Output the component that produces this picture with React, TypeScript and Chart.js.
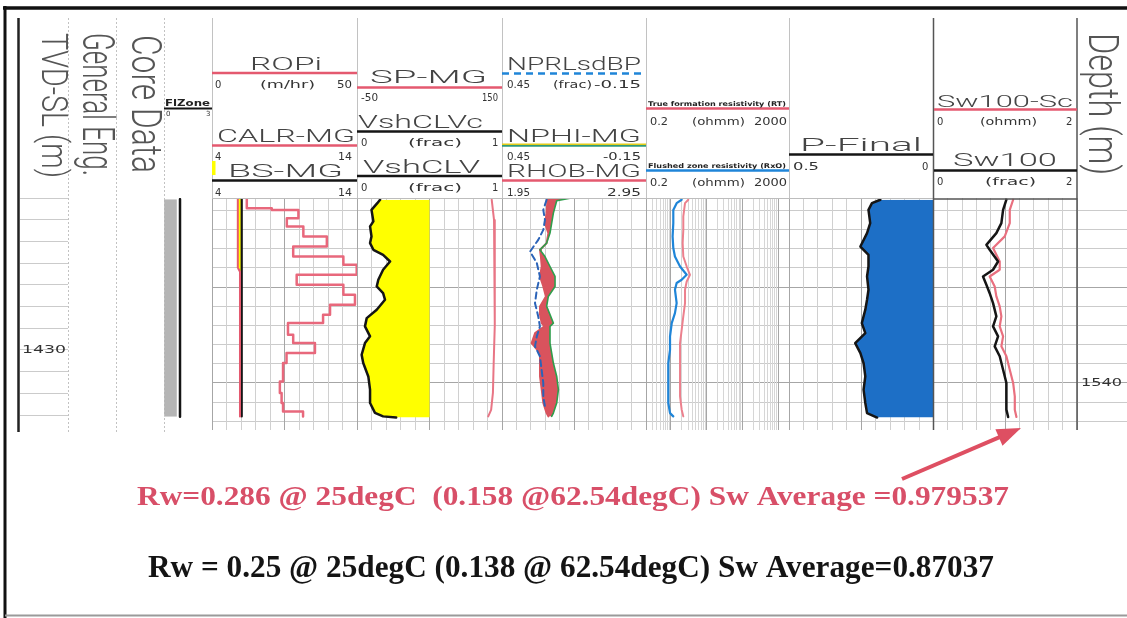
import React, { useEffect, useRef } from "react";
import { Chart, registerables } from "chart.js";

Chart.register(...registerables);

const W = 1127;
const H = 618;
const TOP = 198;
const BOTTOM = 430;

// ---------------- depth axes ----------------
const mdRange = [1530.36, 1542.45];
const tvdRange = [1423.0, 1433.69];
const mdTickLabels = [1540];
const tvdTickLabels = [1430];

// ---------------- FlZone ----------------
const flzDepth = [1530.42, 1541.76];
const flzValue = [1.0, 1.0];
const flzShade = [0.8, 0.8];

// ---------------- Track 1: ROPi / CALR-MG / BS-MG ----------------
const ropDepth = [1530.37, 1530.89, 1530.98, 1531.41, 1531.84, 1532.37, 1532.89, 1533.41, 1533.84, 1534.36, 1534.88, 1535.4, 1535.92, 1536.44, 1536.88, 1537.49, 1537.92, 1538.44, 1538.96, 1539.92, 1540.52, 1541.04, 1541.48, 1541.74];
const ropValue = [12.0, 20.6, 29.8, 25.8, 31.5, 39.6, 28.0, 45.3, 49.9, 29.2, 45.3, 49.3, 40.7, 38.3, 26.2, 28.0, 35.5, 25.7, 24.5, 23.4, 24.0, 24.5, 31.4, 31.4];
const calrDepth = [1530.4, 1534.0, 1534.2, 1541.74];
const calrValue = [5.78, 5.78, 5.93, 5.93];
const bsDepth = [1530.4, 1541.74];
const bsValue = [6.05, 6.05];

// ---------------- Track 2: SP-MG / VshCLVc / VshCLV ----------------
const spDepth = [1530.45, 1531.5, 1533.0, 1535.0, 1537.0, 1539.0, 1540.5, 1541.4, 1541.74];
const spValue = [135.8, 139.0, 140.3, 140.3, 139.5, 138.5, 137.5, 135.0, 131.0];
const vshDepth = [1530.45, 1530.63, 1530.98, 1531.58, 1531.84, 1532.36, 1532.71, 1533.06, 1533.32, 1533.67, 1534.1, 1534.62, 1534.97, 1535.32, 1535.66, 1536.18, 1536.62, 1537.05, 1537.57, 1537.92, 1538.53, 1538.96, 1539.66, 1540.35, 1541.04, 1541.56, 1541.74, 1541.8];
const vshValue = [0.159, 0.14, 0.1, 0.113, 0.09, 0.1, 0.09, 0.113, 0.18, 0.228, 0.18, 0.147, 0.136, 0.18, 0.193, 0.136, 0.067, 0.055, 0.09, 0.055, 0.032, 0.043, 0.078, 0.09, 0.09, 0.124, 0.18, 0.27];
const vshcDepth = [1530.45, 1541.8];
const vshcValue = [0.5, 0.5];

// ---------------- Track 3: NPRLsdBP / NPHI-MG / RHOB-MG ----------------
const nDepth = [1530.37, 1530.5, 1531.15, 1531.67, 1532.19, 1532.71, 1533.06, 1533.41, 1533.93, 1534.45, 1534.97, 1535.49, 1536.01, 1536.44, 1536.88, 1537.05, 1537.4, 1537.92, 1538.44, 1538.96, 1539.66, 1540.35, 1541.04, 1541.57, 1541.74];
const nphiValue = [0.167, 0.222, 0.236, 0.243, 0.25, 0.264, 0.292, 0.271, 0.25, 0.229, 0.229, 0.257, 0.264, 0.25, 0.236, 0.25, 0.25, 0.25, 0.243, 0.236, 0.222, 0.215, 0.222, 0.236, 0.243];
const rhobValue = [2.272, 2.265, 2.26, 2.249, 2.272, 2.26, 2.214, 2.22, 2.226, 2.214, 2.237, 2.255, 2.214, 2.214, 2.226, 2.245, 2.18, 2.156, 2.214, 2.214, 2.214, 2.226, 2.237, 2.26, 2.272];
const nprlDepth = [1530.45, 1530.98, 1531.5, 1532.02, 1532.54, 1533.15, 1533.75, 1534.45, 1535.14, 1535.84, 1536.53, 1537.05, 1537.57, 1538.09, 1538.61, 1539.31, 1540.0, 1540.7, 1541.22];
const nprlValue = [0.264, 0.278, 0.271, 0.278, 0.299, 0.333, 0.305, 0.292, 0.305, 0.3125, 0.299, 0.292, 0.305, 0.3125, 0.292, 0.285, 0.278, 0.278, 0.271];

// ---------------- Track 4: RT / RxO (log) ----------------
const rtDepth = [1530.45, 1530.63, 1531.32, 1532.02, 1532.71, 1533.41, 1533.93, 1534.36, 1534.71, 1535.14, 1535.84, 1536.53, 1537.23, 1537.92, 1538.61, 1539.31, 1540.0, 1540.7, 1541.39, 1541.74];
const rtValue = [3.05, 2.47, 2.21, 2.21, 2.12, 2.21, 2.75, 3.4, 2.75, 2.47, 2.47, 2.21, 1.99, 1.79, 1.79, 1.79, 1.79, 1.79, 1.99, 2.21];
const rxoDepth = [1530.45, 1530.63, 1530.98, 1531.67, 1532.36, 1532.97, 1533.41, 1533.93, 1534.36, 1534.62, 1534.79, 1535.14, 1535.84, 1536.36, 1536.88, 1537.57, 1538.27, 1538.96, 1539.66, 1540.35, 1541.04, 1541.57, 1541.74];
const rxoValue = [1.99, 1.44, 1.16, 1.16, 1.11, 1.16, 1.29, 1.79, 2.75, 1.99, 1.44, 1.29, 1.44, 1.29, 1.05, 0.94, 0.94, 0.84, 0.84, 0.84, 0.84, 0.94, 1.16];

// ---------------- Track 5: P-Final ----------------
const pfDepth = [1530.45, 1530.63, 1530.98, 1531.67, 1532.19, 1532.89, 1533.32, 1533.93, 1534.45, 1535.14, 1535.66, 1536.18, 1536.88, 1537.4, 1537.92, 1538.44, 1538.96, 1539.66, 1540.35, 1541.04, 1541.57, 1541.8];
const pfValue = [0.184, 0.213, 0.225, 0.219, 0.23, 0.253, 0.225, 0.225, 0.23, 0.225, 0.23, 0.236, 0.248, 0.236, 0.271, 0.253, 0.242, 0.236, 0.242, 0.236, 0.23, 0.195];

// ---------------- Track 6: Sw100-Sc / Sw100 ----------------
const swDepth = [1530.45, 1530.98, 1531.67, 1532.19, 1532.8, 1533.06, 1533.67, 1534.1, 1534.45, 1534.88, 1535.32, 1535.84, 1536.53, 1537.05, 1537.57, 1538.09, 1538.61, 1539.31, 1540.0, 1540.7, 1541.39, 1541.77];
const swValue = [1.016, 0.97, 0.946, 0.876, 0.737, 0.783, 0.9, 0.83, 0.69, 0.737, 0.783, 0.83, 0.876, 0.83, 0.9, 0.853, 0.923, 0.97, 1.016, 1.016, 1.016, 1.04];
const swScDepth = [1530.45, 1530.98, 1531.67, 1532.36, 1532.97, 1533.67, 1534.1, 1534.45, 1534.97, 1535.49, 1536.01, 1536.53, 1537.05, 1537.57, 1538.09, 1538.61, 1539.31, 1540.0, 1540.7, 1541.39, 1541.77];
const swScValue = [1.11, 1.063, 1.063, 0.993, 0.83, 0.923, 0.923, 0.783, 0.853, 0.876, 0.923, 0.946, 0.923, 0.97, 0.946, 1.016, 1.063, 1.11, 1.133, 1.133, 1.156];

// ---------------- annotation text ----------------
const noteRed = "Rw=0.286 @ 25degC  (0.158 @62.54degC) Sw Average =0.979537";
const noteBlack = "Rw = 0.25 @ 25degC (0.138 @ 62.54degC) Sw Average=0.87037";

// ---------------- colours ----------------
const RED = "#e4596f";
const PINK = "#e9707f";
const BLACK = "#151515";
const BLUE = "#1f85d8";
const GREEN = "#2f9e4c";
const YELLOW = "#ffff00";
const GRID = "#d0d0d0";
const GRID_MAJOR = "#a6a6a6";

// ---------------- helpers ----------------
const pts = (d: number[], v: number[]) => d.map((y, i) => ({ x: v[i], y }));
const curve = (axis: string, d: number[], v: number[], color: string, width: number, extra: any = {}) => ({
  data: pts(d, v),
  xAxisID: axis,
  yAxisID: "y",
  borderColor: color,
  backgroundColor: color,
  borderWidth: width,
  pointRadius: 0,
  fill: false,
  ...extra,
});

const hidden = (min: number, max: number, reverse = false, type = "linear") => ({
  type,
  axis: "x",
  position: "top",
  min,
  max,
  reverse,
  display: false,
});

const gridLinear = () => ({
  type: "linear",
  axis: "x",
  position: "bottom",
  min: 0,
  max: 10,
  display: true,
  grid: {
    display: true,
    drawTicks: false,
    lineWidth: 1,
    color: (c: any) => (c.tick && [0, 5, 10].includes(Math.round(c.tick.value)) ? GRID_MAJOR : GRID),
  },
  border: { display: false },
  ticks: { display: false, stepSize: 1 },
});

const gridLog = () => ({
  type: "logarithmic",
  axis: "x",
  position: "bottom",
  min: 0.2,
  max: 2000,
  display: true,
  grid: {
    display: true,
    drawTicks: false,
    lineWidth: 1,
    color: (c: any) => {
      const v = c.tick ? c.tick.value : 1.5;
      const e = Math.log10(v);
      return Math.abs(e - Math.round(e)) < 1e-6 || v === 0.2 || v === 2000 ? GRID_MAJOR : "#d6d6d6";
    },
  },
  border: { display: false },
  ticks: { display: false, autoSkip: false },
  afterBuildTicks: (s: any) => {
    s.ticks = s.ticks.filter((t: any) => {
      const m = t.value / Math.pow(10, Math.floor(Math.log10(t.value) + 1e-9));
      return Math.abs(m - 1.5) > 1e-6;
    });
  },
});

const depthAxis = (range: number[], show: boolean, major = true) => ({
  type: "linear",
  axis: "y",
  position: "left",
  min: range[0],
  max: range[1],
  reverse: true,
  display: show,
  grid: {
    display: show,
    drawTicks: false,
    lineWidth: 1,
    color: (c: any) => (major && c.tick && Math.round(c.tick.value) % 5 === 0 ? GRID_MAJOR : "#cbcbcb"),
  },
  border: { display: false },
  ticks: { display: false, stepSize: 1, includeBounds: false },
});

function trackConfig(x0: number, x1: number, scales: any, datasets: any[], plugins: any[] = []) {
  return {
    type: "line",
    data: { datasets },
    options: {
      indexAxis: "y",
      animation: false,
      responsive: false,
      events: [],
      layout: { padding: { left: x0, right: W - x1, top: TOP, bottom: H - BOTTOM } },
      plugins: {
        legend: { display: false },
        tooltip: { enabled: false },
        filler: { drawTime: "beforeDatasetsDraw", propagate: false },
      },
      elements: {
        point: { radius: 0 },
        line: { tension: 0, borderJoinStyle: "round", borderCapStyle: "round" },
      },
      scales,
    },
    plugins,
  };
}

// ---------------- text drawing ----------------
const titleFont = (s: number) => `300 ${s}px Roboto, "DejaVu Sans", sans-serif`;
const labelFont = (s: number) => `400 ${s}px "DejaVu Sans", sans-serif`;
const tinyFont = (s: number) => `700 ${s}px "DejaVu Sans", sans-serif`;

function txt(ctx: CanvasRenderingContext2D, s: string, x: number, y: number, w: number, font: string, color: string, baseline: CanvasTextBaseline = "alphabetic") {
  ctx.save();
  ctx.font = font;
  ctx.fillStyle = color;
  ctx.textBaseline = baseline;
  ctx.textAlign = "left";
  const m = ctx.measureText(s).width;
  ctx.translate(x, y);
  if (w && m > 0) ctx.scale(w / m, 1);
  ctx.fillText(s, 0, 0);
  ctx.restore();
}

// rotated 90deg clockwise; bx = x of the text baseline, glyph tops point right
function vtxt(ctx: CanvasRenderingContext2D, s: string, bx: number, y0: number, len: number, font: string, color: string) {
  ctx.save();
  ctx.translate(bx, y0);
  ctx.rotate(Math.PI / 2);
  ctx.font = font;
  ctx.fillStyle = color;
  ctx.textBaseline = "alphabetic";
  ctx.textAlign = "left";
  const m = ctx.measureText(s).width;
  ctx.scale(len / m, 1);
  ctx.fillText(s, 0, 0);
  ctx.restore();
}

function seg(ctx: CanvasRenderingContext2D, x0: number, y0: number, x1: number, y1: number, color: string, w: number, dash: number[] = []) {
  ctx.save();
  ctx.strokeStyle = color;
  ctx.lineWidth = w;
  ctx.setLineDash(dash);
  ctx.beginPath();
  ctx.moveTo(x0, y0);
  ctx.lineTo(x1, y1);
  ctx.stroke();
  ctx.restore();
}

// header layout: [text, left, baseline, width, size]
const headerTitles: [string, number, number, number, number][] = [
  ["ROPi", 250, 70, 72, 19],
  ["CALR-MG", 217, 142, 138, 18],
  ["BS-MG", 228, 177, 115, 18],
  ["SP-MG", 370, 83, 117, 19],
  ["VshCLVc", 358, 128, 125, 18],
  ["VshCLV", 363, 173, 117, 18],
  ["NPRLsdBP", 507, 70, 134, 18],
  ["NPHI-MG", 507, 142, 134, 18],
  ["RHOB-MG", 507, 177, 134, 18],
  ["P-Final", 800, 151, 122, 19],
  ["Sw100-Sc", 937, 107, 136, 17],
  ["Sw100", 953, 166, 104, 19],
];
const headerLabels: [string, number, number, number, number][] = [
  ["0", 215, 88, 0, 10], ["(m/hr)", 260, 88, 55, 10], ["50", 337, 88, 15, 10],
  ["4", 215, 160, 0, 10], ["14", 338, 160, 14, 10],
  ["4", 215, 196, 0, 10], ["14", 338, 196, 14, 10],
  ["0", 166, 116, 0, 7], ["3", 206, 116, 0, 7],
  ["-50", 361, 101, 17, 10], ["150", 482, 101, 16, 10],
  ["0", 361, 146, 0, 10], ["(frac)", 408, 146, 54, 10], ["1", 492, 146, 0, 10],
  ["0", 361, 191, 0, 10], ["(frac)", 408, 191, 54, 10], ["1", 492, 191, 0, 10],
  ["0.45", 507, 88, 23, 10], ["(frac)", 553, 88, 39, 10], ["-0.15", 594, 88, 47, 10],
  ["0.45", 507, 160, 23, 10], ["-0.15", 603, 160, 38, 10],
  ["1.95", 507, 196, 23, 10], ["2.95", 607, 196, 34, 10],
  ["0.2", 650, 125, 18, 10], ["(ohmm)", 692, 125, 53, 10], ["2000", 754, 125, 33, 10],
  ["0.2", 650, 186, 18, 10], ["(ohmm)", 692, 186, 53, 10], ["2000", 754, 186, 33, 10],
  ["0.5", 793, 170, 26, 10], ["0", 922, 170, 0, 10],
  ["0", 937, 125, 0, 10], ["(ohmm)", 980, 125, 57, 10], ["2", 1066, 125, 0, 10],
  ["0", 937, 185, 0, 10], ["(frac)", 985, 185, 51, 10], ["2", 1066, 185, 0, 10],
];
const headerTiny: [string, number, number, number, number][] = [
  ["FlZone", 165, 106, 45, 8],
  ["True formation resistivity (RT)", 648, 105.5, 138, 6.5],
  ["Flushed zone resistivity (RxO)", 648, 167.5, 138, 6.5],
];
const headerLines: [number, number, number, string, number, number[]?][] = [
  [212, 357, 73, RED, 2.5], [212, 357, 145.5, RED, 2.5], [212, 357, 180.5, BLACK, 2.5],
  [164, 212, 108.5, BLACK, 2],
  [357, 502, 87.5, RED, 2.5], [357, 502, 131.5, BLACK, 2.5], [357, 502, 176, BLACK, 2.5],
  [502, 646, 73.5, BLUE, 2.5, [7, 5]], [502, 646, 144.3, "#e2cc18", 1.6], [502, 646, 145.9, "#2f9a7a", 1.6],
  [502, 646, 180.5, RED, 2.5],
  [646, 789, 108.5, RED, 2.5], [646, 789, 170.5, BLUE, 2.5],
  [789, 933, 154.5, BLACK, 2.5],
  [934, 1077, 109.5, RED, 2.5], [934, 1077, 170.5, BLACK, 2.5],
];

const decorPlugin = {
  id: "decor",
  afterDraw(chart: any) {
    const ctx: CanvasRenderingContext2D = chart.ctx;
    ctx.save();
    // page frame
    seg(ctx, 3, 8, W, 8, "#111", 3.5);
    seg(ctx, 5, 6, 5, H, "#111", 3);
    seg(ctx, 5, 615.5, W, 615.5, "#9a9a9a", 2);
    // column separators
    seg(ctx, 18.5, 18, 18.5, 432, "#222", 2.5);
    [68.5, 116.5, 164.5].forEach((x) => seg(ctx, x, 18, x, 432, "#c2c2c2", 1, [2, 2]));
    [212.5, 357.5, 502.5, 646.5, 789.5].forEach((x) => seg(ctx, x, 18, x, TOP, "#c2c2c2", 1));
    seg(ctx, 212, TOP + 0.5, 934, TOP + 0.5, "#bdbdbd", 1);
    seg(ctx, 933.5, 18, 933.5, BOTTOM, "#555", 1.5);
    seg(ctx, 1077, 18, 1077, BOTTOM, "#555", 1.5);
    seg(ctx, 933.5, TOP + 1, 1077, TOP + 1, "#555", 1.5);
    // vertical column titles
    vtxt(ctx, "TVD-SL (m)", 42, 33, 145, titleFont(37), "#555");
    vtxt(ctx, "General Eng.", 83, 33, 143, titleFont(44), "#555");
    vtxt(ctx, "Core Data", 132, 35, 138, titleFont(42), "#555");
    vtxt(ctx, "Depth (m)", 1089, 33, 142, titleFont(42), "#555");
    // header lines
    headerLines.forEach(([x0, x1, y, c, w, d]) => seg(ctx, x0, y, x1, y, c, w, d || []));
    ctx.fillStyle = YELLOW;
    ctx.fillRect(212, 161, 3.5, 14);
    // header texts
    headerTitles.forEach(([s, x, y, w, sz]) => txt(ctx, s, x, y, w, titleFont(sz), "#444"));
    headerLabels.forEach(([s, x, y, w, sz]) => txt(ctx, s, x, y, w, labelFont(sz), "#333"));
    headerTiny.forEach(([s, x, y, w, sz]) => txt(ctx, s, x, y, w, tinyFont(sz), "#222"));
    // MD depth labels
    const ys = chart.scales.y;
    mdTickLabels.forEach((v) => txt(ctx, String(v), 1081, ys.getPixelForValue(v), 41, labelFont(11), "#333", "middle"));
    // annotation texts
    txt(ctx, noteRed, 137, 505, 872, `700 28px "Liberation Serif", serif`, "#d84f68");
    txt(ctx, noteBlack, 148, 577, 846, `700 32px "Liberation Serif", serif`, "#141414");
    // arrow
    const ax0 = 902, ay0 = 479, ax1 = 1021, ay1 = 428;
    const ang = Math.atan2(ay1 - ay0, ax1 - ax0);
    const hl = 24, hw = 9;
    const bx = ax1 - hl * Math.cos(ang), by = ay1 - hl * Math.sin(ang);
    seg(ctx, ax0, ay0, bx + 2 * Math.cos(ang), by + 2 * Math.sin(ang), "#de4f62", 4);
    ctx.fillStyle = "#de4f62";
    ctx.beginPath();
    ctx.moveTo(ax1, ay1);
    ctx.lineTo(bx + hw * Math.sin(ang), by - hw * Math.cos(ang));
    ctx.lineTo(bx - hw * Math.sin(ang), by + hw * Math.cos(ang));
    ctx.closePath();
    ctx.fill();
    ctx.restore();
  },
};

const tvdLabelPlugin = {
  id: "tvdLabels",
  afterDraw(chart: any) {
    const ys = chart.scales.y;
    tvdTickLabels.forEach((v) => txt(chart.ctx, String(v), 22, ys.getPixelForValue(v), 44, labelFont(11), "#333", "middle"));
  },
};

function buildConfigs() {
  return [
    // TVD column
    trackConfig(19.5, 68, { y: depthAxis(tvdRange, true, false) }, [], [tvdLabelPlugin]),
    // FlZone
    trackConfig(164, 212, { y: depthAxis(mdRange, false), fz: hidden(0, 3) }, [
      curve("fz", flzDepth, flzShade, "#b5b5b5", 0, { fill: "origin", backgroundColor: "#b5b5b5" }),
      curve("fz", flzDepth, flzValue, BLACK, 2.5),
    ]),
    // Track 1
    trackConfig(212, 357, { y: depthAxis(mdRange, true), g: gridLinear(), rop: hidden(0, 50), cal: hidden(4, 14) }, [
      curve("rop", ropDepth, ropValue, "#e8687c", 2.5, { stepped: "after" }),
      curve("cal", calrDepth, calrValue, RED, 2, { fill: "+1", backgroundColor: YELLOW }),
      curve("cal", bsDepth, bsValue, BLACK, 2.2),
    ]),
    // Track 2
    trackConfig(357, 502, { y: depthAxis(mdRange, true), g: gridLinear(), sp: hidden(-50, 150), vsh: hidden(0, 1) }, [
      curve("sp", spDepth, spValue, "#e87585", 2),
      curve("vsh", vshDepth, vshValue, BLACK, 2.5, { fill: "+1", backgroundColor: YELLOW }),
      curve("vsh", vshcDepth, vshcValue, "rgba(0,0,0,0)", 0),
    ]),
    // Track 3
    trackConfig(502, 646, { y: depthAxis(mdRange, true), g: gridLinear(), nphi: hidden(-0.15, 0.45, true), rhob: hidden(1.95, 2.95) }, [
      curve("nphi", nprlDepth, nprlValue, "#2b63b8", 2, { borderDash: [6, 4] }),
      curve("nphi", nDepth, nphiValue, GREEN, 1.6, { fill: "+1", backgroundColor: "#d9535d" }),
      curve("rhob", nDepth, rhobValue, "#d9535d", 2),
    ]),
    // Track 4
    trackConfig(646, 789, { y: depthAxis(mdRange, true), g: gridLog(), res: hidden(0.2, 2000, false, "logarithmic") }, [
      curve("res", rxoDepth, rxoValue, BLUE, 2.2),
      curve("res", rtDepth, rtValue, "#ec808d", 2),
    ]),
    // Track 5
    trackConfig(789, 933.5, { y: depthAxis(mdRange, true), g: gridLinear(), pf: hidden(0, 0.5, true) }, [
      curve("pf", pfDepth, pfValue, BLACK, 2.5, { fill: { value: 0 }, backgroundColor: "#1d6fc6" }),
    ]),
    // Track 6
    trackConfig(933.5, 1077, { y: depthAxis(mdRange, true), g: gridLinear(), sw: hidden(0, 2) }, [
      curve("sw", swDepth, swValue, BLACK, 2.5),
      curve("sw", swScDepth, swScValue, PINK, 2.2),
    ]),
    // MD depth column + page decoration
    trackConfig(1077, 1127, { y: depthAxis(mdRange, true) }, [], [decorPlugin]),
  ];
}

const N_CHARTS = 9;

export default function App() {
  const refs = useRef<(HTMLCanvasElement | null)[]>([]);
  useEffect(() => {
    const configs = buildConfigs();
    const charts = configs.map((cfg, i) => new Chart(refs.current[i] as HTMLCanvasElement, cfg as any));
    return () => {
      charts.forEach((c) => c.destroy());
    };
  }, []);
  const items = [];
  for (let i = 0; i < N_CHARTS; i++) {
    items.push(
      <canvas
        key={i}
        ref={(el) => {
          refs.current[i] = el;
        }}
        width={W}
        height={H}
        style={{ position: "absolute", left: 0, top: 0 }}
      />
    );
  }
  return (
    <div style={{ position: "absolute", left: 0, top: 0, width: W, height: H, background: "#fff", overflow: "hidden" }}>
      {items}
    </div>
  );
}
